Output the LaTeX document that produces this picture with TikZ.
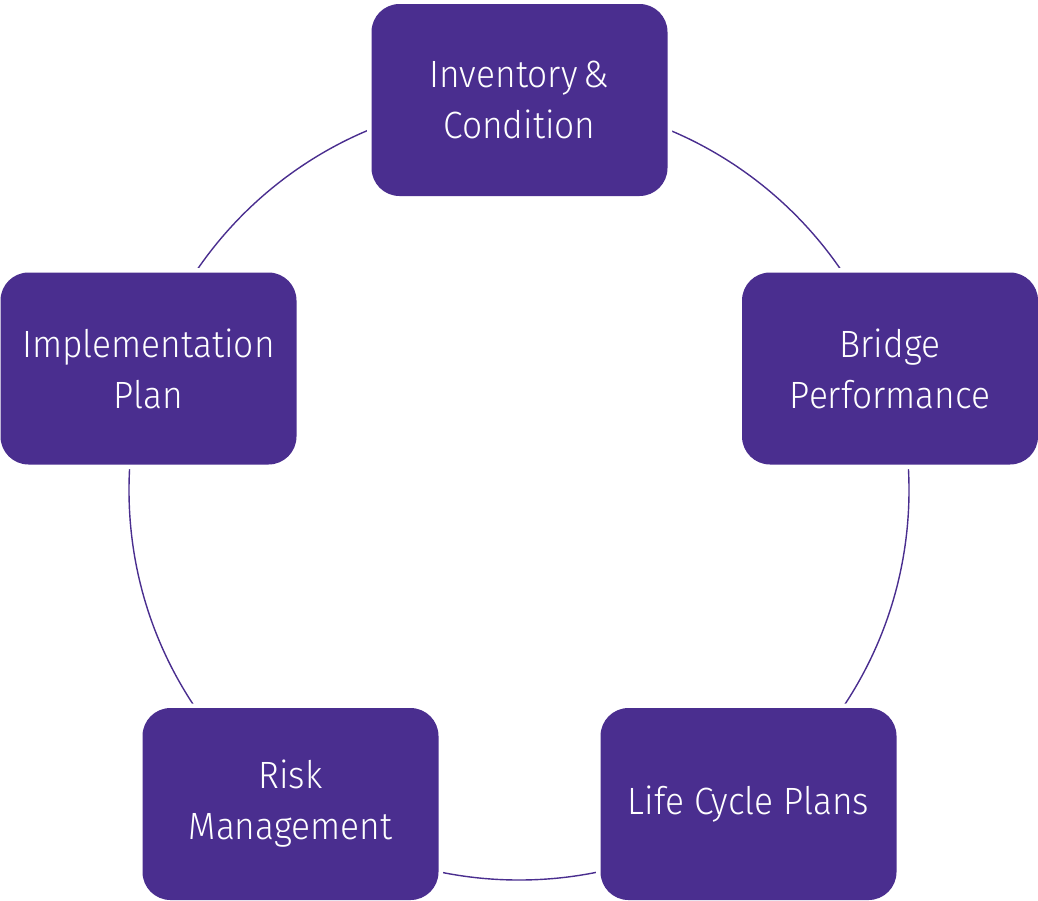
\documentclass[tikz,border=0pt]{standalone}
\usepackage{fontspec}
\setmainfont{Fira Sans}[UprightFont={* Light}, FakeStretch=0.93]
\definecolor{boxpurple}{RGB}{74,46,143}
\begin{document}
\begin{tikzpicture}[x=1pt,y=-1pt,
  stagebox/.style={fill=boxpurple, rounded corners=28pt, minimum width=296pt, minimum height=192pt,
    text=white, align=center, font=\fontsize{38}{51}\selectfont, inner sep=0pt,
    preaction={draw=white, line width=9pt}},
  ring/.style={draw=boxpurple, line width=1.4pt}]
\useasboundingbox (0,0) rectangle (1038,900);
\coordinate (O) at (519,490);
\draw[ring] (O) circle (390pt);
\node[stagebox] (inv) at (519.5,100) {Inventory\,\&\\Condition};
\node[stagebox] (bridge) at (890,368.5) {Bridge\\Performance};
\node[stagebox] (life) at (748.5,804) {Life Cycle Plans};
\node[stagebox] (risk) at (290.5,804) {Risk\\Management};
\node[stagebox] (impl) at (148.5,368.5) {Implementation\\Plan};
\end{tikzpicture}
\end{document}
